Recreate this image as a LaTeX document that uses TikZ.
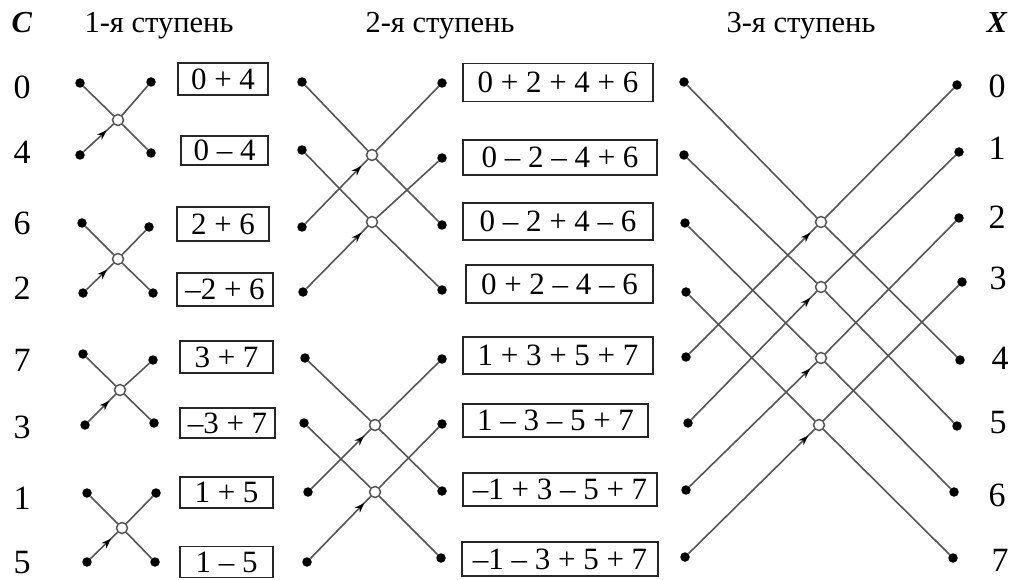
\documentclass[tikz,border=0pt]{standalone}
\usepackage{fontspec}
\setmainfont{Liberation Serif}
\usetikzlibrary{arrows.meta,decorations.markings}
\definecolor{wire}{RGB}{85,85,85}
\tikzset{
 dot/.style={circle,fill=black,inner sep=0pt,minimum size=9.5pt},
 junc/.style={circle,draw=wire,fill=white,line width=1.5pt,inner sep=0pt,minimum size=11pt},
 wireline/.style={draw=wire,line width=1.6pt},
 arrowline/.style={wireline,postaction={decorate},decoration={markings,mark=at position -9pt with {\arrow[black]{Stealth[length=10pt,width=7pt]}}}},
 sumbox/.style={draw=black!85,line width=1.5pt,inner sep=0pt,font=\fontsize{31}{34}\selectfont},
 lbl/.style={font=\fontsize{34}{36}\selectfont,inner sep=0pt},
 hdr/.style={font=\fontsize{30.5}{32}\selectfont,inner sep=0pt,anchor=base},
}
\begin{document}
\begin{tikzpicture}[x=1pt,y=-1pt]
\useasboundingbox (0,0) rectangle (1015,580);
% headers
\node[hdr] (hc) at (22,33) {\textbf{\textit{C}}};
\node[hdr] (h1) at (159,33) {1-я ступень};
\node[hdr] (h2) at (440,33) {2-я ступень};
\node[hdr] (h3) at (801,33) {3-я ступень};
\node[hdr] (hx) at (997,33) {\textbf{\textit{X}}};
% C labels
\node[lbl] (c0) at (22,87) {0};
\node[lbl] (c1) at (22,152) {4};
\node[lbl] (c2) at (22,223) {6};
\node[lbl] (c3) at (22,288) {2};
\node[lbl] (c4) at (22,360) {7};
\node[lbl] (c5) at (22,427) {3};
\node[lbl] (c6) at (22,498) {1};
\node[lbl] (c7) at (22,563) {5};
% X labels
\node[lbl] (x0) at (997,86) {0};
\node[lbl] (x1) at (997,148) {1};
\node[lbl] (x2) at (997,217) {2};
\node[lbl] (x3) at (998,278) {3};
\node[lbl] (x4) at (1000,358) {4};
\node[lbl] (x5) at (998,423) {5};
\node[lbl] (x6) at (997,495) {6};
\node[lbl] (x7) at (1000,560) {7};
% stage 1 dots
\node[dot] (a0) at (80,83) {};
\node[dot] (a1) at (80,155) {};
\node[dot] (a2) at (82,223) {};
\node[dot] (a3) at (83,293) {};
\node[dot] (a4) at (83,354) {};
\node[dot] (a5) at (85,425) {};
\node[dot] (a6) at (87,493) {};
\node[dot] (a7) at (87,562) {};
\node[dot] (b0) at (151,82) {};
\node[dot] (b1) at (151,153) {};
\node[dot] (b2) at (149,227) {};
\node[dot] (b3) at (153,293) {};
\node[dot] (b4) at (153,360) {};
\node[dot] (b5) at (154,423) {};
\node[dot] (b6) at (156,493) {};
\node[dot] (b7) at (155,562) {};
\node[junc] (j10) at (118,120) {};
\node[junc] (j11) at (118,259) {};
\node[junc] (j12) at (120,390) {};
\node[junc] (j13) at (122,528) {};
\draw[wireline] (a0) -- (j10) -- (b1);
\draw[arrowline] (a1) -- (j10);
\draw[wireline] (j10) -- (b0);
\draw[wireline] (a2) -- (j11) -- (b3);
\draw[arrowline] (a3) -- (j11);
\draw[wireline] (j11) -- (b2);
\draw[wireline] (a4) -- (j12) -- (b5);
\draw[arrowline] (a5) -- (j12);
\draw[wireline] (j12) -- (b4);
\draw[wireline] (a6) -- (j13) -- (b7);
\draw[arrowline] (a7) -- (j13);
\draw[wireline] (j13) -- (b6);
% stage 1 boxes
\node[sumbox,minimum width=90pt,minimum height=32pt] (s10) at (223,79) {0 + 4};
\node[sumbox,minimum width=87pt,minimum height=29pt] (s11) at (224.5,150.5) {0 – 4};
\node[sumbox,minimum width=92pt,minimum height=34pt] (s12) at (223,224) {2 + 6};
\node[sumbox,minimum width=96pt,minimum height=33pt] (s13) at (225,289.5) {–2 + 6};
\node[sumbox,minimum width=93pt,minimum height=32pt] (s14) at (226.5,357) {3 + 7};
\node[sumbox,minimum width=95pt,minimum height=30pt] (s15) at (227.5,423) {–3 + 7};
\node[sumbox,minimum width=93pt,minimum height=31pt] (s16) at (226.5,492.5) {1 + 5};
\node[sumbox,minimum width=93pt,minimum height=31pt] (s17) at (226.5,562) {1 – 5};
% stage 2 dots
\node[dot] (c0d) at (302,82) {};
\node[dot] (c1d) at (302,150) {};
\node[dot] (c2d) at (302,227) {};
\node[dot] (c3d) at (303,292) {};
\node[dot] (c4d) at (305,358) {};
\node[dot] (c5d) at (304,423) {};
\node[dot] (c6d) at (308,492) {};
\node[dot] (c7d) at (307,562) {};
\node[dot] (d0) at (442,83) {};
\node[dot] (d1) at (442,158) {};
\node[dot] (d2) at (442,225) {};
\node[dot] (d3) at (442,290) {};
\node[dot] (d4) at (442,359) {};
\node[dot] (d5) at (442,424) {};
\node[dot] (d6) at (442,491) {};
\node[dot] (d7) at (441,558) {};
\node[junc] (j20) at (372,155) {};
\node[junc] (j21) at (372,222) {};
\node[junc] (j22) at (375,425) {};
\node[junc] (j23) at (375,492) {};
\draw[wireline] (c0d) -- (j20) -- (d2);
\draw[arrowline] (c2d) -- (j20);
\draw[wireline] (j20) -- (d0);
\draw[wireline] (c1d) -- (j21) -- (d3);
\draw[arrowline] (c3d) -- (j21);
\draw[wireline] (j21) -- (d1);
\draw[wireline] (c4d) -- (j22) -- (d6);
\draw[arrowline] (c6d) -- (j22);
\draw[wireline] (j22) -- (d4);
\draw[wireline] (c5d) -- (j23) -- (d7);
\draw[arrowline] (c7d) -- (j23);
\draw[wireline] (j23) -- (d5);
% stage 2 boxes
\node[sumbox,minimum width=190pt,minimum height=38pt] (s20) at (558,82.5) {0 + 2 + 4 + 6};
\node[sumbox,minimum width=194pt,minimum height=35pt] (s21) at (560,157.5) {0 – 2 – 4 + 6};
\node[sumbox,minimum width=190pt,minimum height=37pt] (s22) at (558,221.5) {0 – 2 + 4 – 6};
\node[sumbox,minimum width=187pt,minimum height=38pt] (s23) at (559.5,284) {0 + 2 – 4 – 6};
\node[sumbox,minimum width=190pt,minimum height=37pt] (s24) at (558,355.5) {1 + 3 + 5 + 7};
\node[sumbox,minimum width=185pt,minimum height=33pt] (s25) at (555.5,420.5) {1 – 3 – 5 + 7};
\node[sumbox,minimum width=194pt,minimum height=33pt] (s26) at (560,489.5) {–1 + 3 – 5 + 7};
\node[sumbox,minimum width=196pt,minimum height=34pt] (s27) at (560,559) {–1 – 3 + 5 + 7};
% stage 3 dots
\node[dot] (e0) at (684,82) {};
\node[dot] (e1) at (684,155) {};
\node[dot] (e2) at (685,223) {};
\node[dot] (e3) at (686,292) {};
\node[dot] (e4) at (686,357) {};
\node[dot] (e5) at (688,423) {};
\node[dot] (e6) at (686,490) {};
\node[dot] (e7) at (685,557) {};
\node[dot] (f0) at (957,85) {};
\node[dot] (f1) at (959,152) {};
\node[dot] (f2) at (959,218) {};
\node[dot] (f3) at (962,282) {};
\node[dot] (f4) at (960,360) {};
\node[dot] (f5) at (957,426) {};
\node[dot] (f6) at (954,492) {};
\node[dot] (f7) at (953,558) {};
\node[junc] (j30) at (821,222) {};
\node[junc] (j31) at (821,287) {};
\node[junc] (j32) at (821,358) {};
\node[junc] (j33) at (819,425) {};
\draw[wireline] (e0) -- (j30) -- (f4);
\draw[arrowline] (e4) -- (j30);
\draw[wireline] (j30) -- (f0);
\draw[wireline] (e1) -- (j31) -- (f5);
\draw[arrowline] (e5) -- (j31);
\draw[wireline] (j31) -- (f1);
\draw[wireline] (e2) -- (j32) -- (f6);
\draw[arrowline] (e6) -- (j32);
\draw[wireline] (j32) -- (f2);
\draw[wireline] (e3) -- (j33) -- (f7);
\draw[arrowline] (e7) -- (j33);
\draw[wireline] (j33) -- (f3);
\end{tikzpicture}
\end{document}
